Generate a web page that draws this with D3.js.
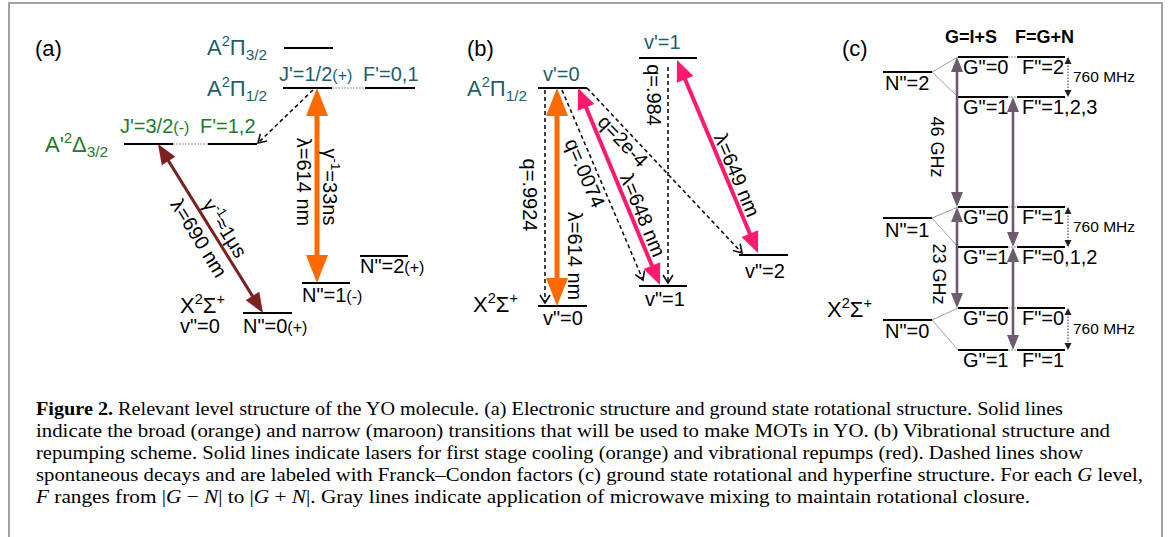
<!DOCTYPE html>
<meta charset="utf-8">
<html>
  <head>
    <script src="https://cdn.jsdelivr.net/npm/d3@7"></script>
    <style>
      body { margin: 0; background: #fff; }
      svg text { font-family: "Liberation Sans", Arial, sans-serif; }
      .cap text { font-family: "Liberation Serif", "Times New Roman", serif; }
    </style>
  </head>
  <body>
    <svg id="fig" width="1168" height="537"></svg>
    <script>
      // ---- panel (a): electronic + rotational levels (x in panel units, E in arbitrary energy units)
      const levelsA = [
        {id: "P32",  x: 264, w: 49, E: 265},
        {id: "P12J", x: 263, w: 49, E: 225},
        {id: "P12F", x: 345, w: 50, E: 225},
        {id: "DJ",   x: 104, w: 49, E: 169},
        {id: "DF",   x: 188, w: 49, E: 169},
        {id: "N0",   x: 223, w: 49, E: 0},
        {id: "N1",   x: 282, w: 48, E: 30},
        {id: "N2",   x: 340, w: 48, E: 57}
      ];
      const bridgesA = [["P12J", "P12F"], ["DJ", "DF"]];
      const transA = [
        {kind: "decay",  x1: 293, E1: 223, x2: 238, E2: 170},
        {kind: "narrow", x1: 138, E1: 169, x2: 243, E2: 0},
        {kind: "broad",  x1: 297, E1: 225, x2: 297, E2: 30}
      ];
      const labelsA = [
        {t: "A^{2}Π_{3/2}", x: 187, E: 258, c: "teal", s: 22},
        {t: "A^{2}Π_{1/2}", x: 187, E: 217, c: "teal", s: 22},
        {t: "J'=1/2~{(+)}", x: 259, E: 232, c: "teal", s: 20},
        {t: "F'=0,1", x: 343, E: 232, c: "teal", s: 20},
        {t: "A'^{2}Δ_{3/2}", x: 25, E: 161, c: "green", s: 22},
        {t: "J'=3/2~{(-)}", x: 100, E: 180, c: "green", s: 20},
        {t: "F'=1,2", x: 180, E: 180, c: "green", s: 20},
        {t: "X^{2}Σ^{+}", x: 160, E: 0, s: 22},
        {t: "v\"=0", x: 160, E: -20, s: 20},
        {t: "N\"=0~{(+)}", x: 223, E: -20, s: 20},
        {t: "N\"=1~{(-)}", x: 282, E: 11, s: 20},
        {t: "N\"=2~{(+)}", x: 340, E: 40, s: 20},
        {t: "λ=614 nm", x: 284, E: 131, s: 20, rot: 90},
        {t: "γ^{-1}=33ns", x: 310, E: 126, s: 20, rot: 90},
        {t: "γ^{-1}≈1μs", x: 205, E: 85, s: 20, along: 1},
        {t: "λ=690 nm", x: 179, E: 75, s: 20, along: 1}
      ];

      // ---- panel (b): vibrational levels
      const levelsB = [
        {id: "v0u", x: 98,  w: 49, E: 218},
        {id: "v1u", x: 199, w: 58, E: 248},
        {id: "v0",  x: 98,  w: 49, E: 0},
        {id: "v1",  x: 199, w: 48, E: 20},
        {id: "v2",  x: 299, w: 49, E: 51}
      ];
      const transB = [
        {kind: "decay", x1: 105, E1: 216, x2: 105, E2: 3},
        {kind: "decay", x1: 122, E1: 216, x2: 203, E2: 26},
        {kind: "decay", x1: 147, E1: 218, x2: 302, E2: 53},
        {kind: "decay", x1: 228, E1: 239, x2: 228, E2: 23},
        {kind: "broad", x1: 117, E1: 218, x2: 117, E2: 0},
        {kind: "repump", x1: 138, E1: 218, x2: 220, E2: 21},
        {kind: "repump", x1: 237, E1: 246, x2: 318, E2: 53}
      ];
      const labelsB = [
        {t: "v'=1", x: 204, E: 257, c: "teal", s: 20},
        {t: "v'=0", x: 103, E: 225, c: "teal", s: 20},
        {t: "A^{2}Π_{1/2}", x: 27, E: 210, c: "teal", s: 22},
        {t: "X^{2}Σ^{+}", x: 33, E: -6, s: 22},
        {t: "v\"=0", x: 103, E: -19, s: 20},
        {t: "v\"=1", x: 205, E: 0, s: 20},
        {t: "v\"=2", x: 305, E: 28, s: 20},
        {t: "q=.9924", x: 90, E: 111, s: 20, rot: 90},
        {t: "λ=614 nm", x: 135, E: 50, s: 20, rot: 90},
        {t: "q=.0074", x: 145, E: 133, s: 20, along: 1},
        {t: "q=2e-4", x: 183, E: 165, s: 20, along: 2},
        {t: "λ=648 nm", x: 203, E: 91, s: 20, along: 5},
        {t: "q=.984", x: 214, E: 211, s: 20, rot: 90},
        {t: "λ=649 nm", x: 297, E: 131, s: 20, along: 6}
      ];

      // ---- panel (c): rotational + hyperfine levels of X state
      const rotC = [
        {id: "N2", x: 83, w: 49, E: 278},
        {id: "N1", x: 83, w: 49, E: 132},
        {id: "N0", x: 83, w: 49, E: 30}
      ];
      const hypC = [
        {N: "N2", E: 293, G: "0", F: "2"},
        {N: "N2", E: 253, G: "1", F: "1,2,3"},
        {N: "N1", E: 143, G: "0", F: "1"},
        {N: "N1", E: 103, G: "1", F: "0,1,2"},
        {N: "N0", E: 42,  G: "0", F: "0"},
        {N: "N0", E: 0,   G: "1", F: "1"}
      ];
      const hypCols = {G: {x: 158, w: 50}, F: {x: 217, w: 48}};
      const microwave = [
        {x: 157, E1: 293, E2: 143}, {x: 157, E1: 143, E2: 42},
        {x: 213, E1: 253, E2: 103}, {x: 213, E1: 103, E2: 0}
      ];
      const splitC = [{E1: 293, E2: 253, label: "760 MHz"}, {E1: 143, E2: 103, label: "760 MHz"}, {E1: 42, E2: 0, label: "760 MHz"}];
      const labelsC = [
        {t: "!{G=I+S}", x: 145, E: 307, s: 18},
        {t: "!{F=G+N}", x: 215, E: 307, s: 18},
        {t: "X^{2}Σ^{+}", x: 27, E: 33, s: 22},
        {t: "N\"=2", x: 85, E: 260, s: 20},
        {t: "N\"=1", x: 85, E: 113, s: 20},
        {t: "N\"=0", x: 85, E: 12, s: 20},
        {t: "46 GHz", x: 137, E: 203, s: 18, rot: 90},
        {t: "23 GHz", x: 139, E: 76, s: 18, rot: 90}
      ];

      const captionLines = [
        "!{Figure 2.} Relevant level structure of the YO molecule. (a) Electronic structure and ground state rotational structure. Solid lines",
        "indicate the broad (orange) and narrow (maroon) transitions that will be used to make MOTs in YO. (b) Vibrational structure and",
        "repumping scheme. Solid lines indicate lasers for first stage cooling (orange) and vibrational repumps (red). Dashed lines show",
        "spontaneous decays and are labeled with Franck–Condon factors (c) ground state rotational and hyperfine structure. For each *{G} level,",
        "*{F} ranges from |*{G} − *{N}| to |*{G} + *{N}|. Gray lines indicate application of microwave mixing to maintain rotational closure."
      ];
      const captionEnds = [1063, 1110, 1083, 1143, 1030];

      const colors = {teal: "#1e5d6c", green: "#227a2a", broad: "#ff6a00", narrow: "#7a2222",
                      repump: "#ff1a70", mw: "#6f5b6f", decay: "#111"};

      const svg = d3.select("#fig");
      svg.append("rect").attr("x", 9).attr("y", 3).attr("width", 1153).attr("height", 560)
        .attr("fill", "none").attr("stroke", "#8c8c8c").attr("stroke-width", 1.6);

      // rich text: ^{} sup, _{} sub, ~{} small, !{} bold, *{} italic
      function rich(t, str, size) {
        const re = /([\^_~!*])\{([^}]*)\}|([^\^_~!*]+)/g;
        let m, shift = 0;
        while ((m = re.exec(str))) {
          let target = 0, fs = size, txt = m[3], weight = null, style = null;
          if (m[1] === "^") { target = -0.4 * size; fs = size * 0.66; txt = m[2]; }
          else if (m[1] === "_") { target = 0.24 * size; fs = size * 0.7; txt = m[2]; }
          else if (m[1] === "~") { fs = size * 0.8; txt = m[2]; }
          else if (m[1] === "!") { weight = "bold"; txt = m[2]; }
          else if (m[1] === "*") { style = "italic"; txt = m[2]; }
          const sp = t.append("tspan").attr("dy", target - shift).attr("font-size", fs).text(txt);
          if (weight) sp.attr("font-weight", weight);
          if (style) sp.attr("font-style", style);
          shift = target;
        }
      }

      function arrow(g, a, b, o) {
        const dx = b[0] - a[0], dy = b[1] - a[1], L = Math.hypot(dx, dy);
        const ux = dx / L, uy = dy / L, nx = -uy, ny = ux;
        const inset = o.open ? 0 : o.hl * 0.8;
        const s = o.double ? inset : 0;
        g.append("line")
          .attr("x1", a[0] + ux * s).attr("y1", a[1] + uy * s)
          .attr("x2", b[0] - ux * inset).attr("y2", b[1] - uy * inset)
          .attr("stroke", o.color).attr("stroke-width", o.sw)
          .attr("stroke-dasharray", o.dash || null);
        const head = (tip, sx, sy) => {
          const bx = tip[0] - sx * o.hl, by = tip[1] - sy * o.hl;
          const p = [[bx + nx * o.hw, by + ny * o.hw], tip, [bx - nx * o.hw, by - ny * o.hw]];
          if (o.open) {
            g.append("path").attr("d", d3.line()(p)).attr("fill", "none")
              .attr("stroke", o.color).attr("stroke-width", o.sw);
          } else {
            g.append("path").attr("d", d3.line()(p) + "Z").attr("fill", o.color);
          }
        };
        head(b, ux, uy);
        if (o.double) head(a, -ux, -uy);
      }

      const styles = {
        decay:  {color: colors.decay, sw: 1.6, dash: "4,3", hl: 8, hw: 5, open: true},
        narrow: {color: colors.narrow, sw: 3, hl: 20, hw: 8, double: true},
        broad:  {color: colors.broad, sw: 5, hl: 28, hw: 11, double: true},
        repump: {color: colors.repump, sw: 4, hl: 21, hw: 9, double: true}
      };

      function drawPanel(levels, trans, labels, x, y) {
        const g = svg.append("g");
        g.selectAll("line.level").data(levels).join("line").attr("class", "level")
          .attr("x1", d => x(d.x)).attr("x2", d => x(d.x + d.w))
          .attr("y1", d => y(d.E)).attr("y2", d => y(d.E))
          .attr("stroke", "#000").attr("stroke-width", 2);
        const angles = trans.map(d => Math.atan2(y(d.E2) - y(d.E1), x(d.x2) - x(d.x1)) * 180 / Math.PI);
        trans.forEach(d => arrow(g, [x(d.x1), y(d.E1)], [x(d.x2), y(d.E2)], styles[d.kind]));
        labels.forEach(d => {
          const t = g.append("text").attr("fill", d.c ? colors[d.c] : "#000").attr("font-size", d.s);
          const r = d.rot != null ? d.rot : (d.along != null ? angles[d.along] : null);
          if (r != null) {
            t.attr("transform", `translate(${x(d.x)},${y(d.E)}) rotate(${r})`)
              .attr("text-anchor", "middle").attr("y", d.s * 0.35);
          } else {
            t.attr("x", x(d.x)).attr("y", y(d.E));
          }
          rich(t, d.t, d.s);
        });
        return g;
      }

      // panel (a)
      const xA = d3.scaleLinear().domain([0, 400]).range([20, 420]);
      const yA = d3.scaleLinear().domain([0, 265]).range([313, 48]);
      const gA = drawPanel(levelsA, transA, labelsA, xA, yA);
      bridgesA.forEach(([p, q]) => {
        const a = levelsA.find(d => d.id === p), b = levelsA.find(d => d.id === q);
        gA.append("line").attr("x1", xA(a.x + a.w)).attr("x2", xA(b.x))
          .attr("y1", yA(a.E)).attr("y2", yA(b.E))
          .attr("stroke", "#999").attr("stroke-width", 1).attr("stroke-dasharray", "2,1");
      });

      // panel (b)
      const xB = d3.scaleLinear().domain([0, 400]).range([440, 840]);
      const yB = d3.scaleLinear().domain([0, 248]).range([306, 58]);
      drawPanel(levelsB, transB, labelsB, xB, yB);

      // panel (c)
      const xC = d3.scaleLinear().domain([0, 350]).range([800, 1150]);
      const yC = d3.scaleLinear().domain([0, 293]).range([350, 57]);
      const gC = drawPanel(rotC, [], labelsC, xC, yC);
      hypC.forEach(d => {
        const n = rotC.find(r => r.id === d.N);
        gC.append("line").attr("x1", xC(n.x + n.w)).attr("y1", yC(n.E))
          .attr("x2", xC(hypCols.G.x)).attr("y2", yC(d.E))
          .attr("stroke", "#888").attr("stroke-width", 0.8);
        ["G", "F"].forEach(k => {
          gC.append("line").attr("x1", xC(hypCols[k].x)).attr("x2", xC(hypCols[k].x + hypCols[k].w))
            .attr("y1", yC(d.E)).attr("y2", yC(d.E)).attr("stroke", "#000").attr("stroke-width", 2);
          const t = gC.append("text").attr("x", xC(hypCols[k].x + 5)).attr("y", yC(d.E) + 17).attr("font-size", 20);
          rich(t, k + "\"=" + d[k], 20);
        });
        gC.append("line").attr("x1", xC(hypCols.G.x + hypCols.G.w)).attr("x2", xC(hypCols.F.x))
          .attr("y1", yC(d.E)).attr("y2", yC(d.E))
          .attr("stroke", "#999").attr("stroke-width", 1).attr("stroke-dasharray", "2,1");
      });
      microwave.forEach(d => arrow(gC, [xC(d.x), yC(d.E1)], [xC(d.x), yC(d.E2)],
        {color: colors.mw, sw: 2.6, hl: 15, hw: 6, double: true}));
      splitC.forEach(d => {
        arrow(gC, [xC(268), yC(d.E1)], [xC(268), yC(d.E2)],
          {color: "#222", sw: 1, dash: "1.5,1.5", hl: 7, hw: 3.5, double: true});
        gC.append("text").attr("x", xC(273)).attr("y", (yC(d.E1) + yC(d.E2)) / 2 + 5)
          .attr("font-size", 15.5).text(d.label);
      });

      // panel tags
      [["(a)", 35], ["(b)", 467], ["(c)", 842]].forEach(([t, px]) =>
        svg.append("text").attr("x", px).attr("y", 56).attr("font-size", 22).text(t));

      // caption
      const cap = svg.append("g").attr("class", "cap");
      captionLines.forEach((line, i) => {
        const t = cap.append("text").attr("x", 36).attr("y", 415 + i * 22)
          .attr("font-size", 19)
          .attr("textLength", captionEnds[i] - 36).attr("lengthAdjust", "spacingAndGlyphs");
        rich(t, line, 19);
      });
    </script>
  </body>
</html>
